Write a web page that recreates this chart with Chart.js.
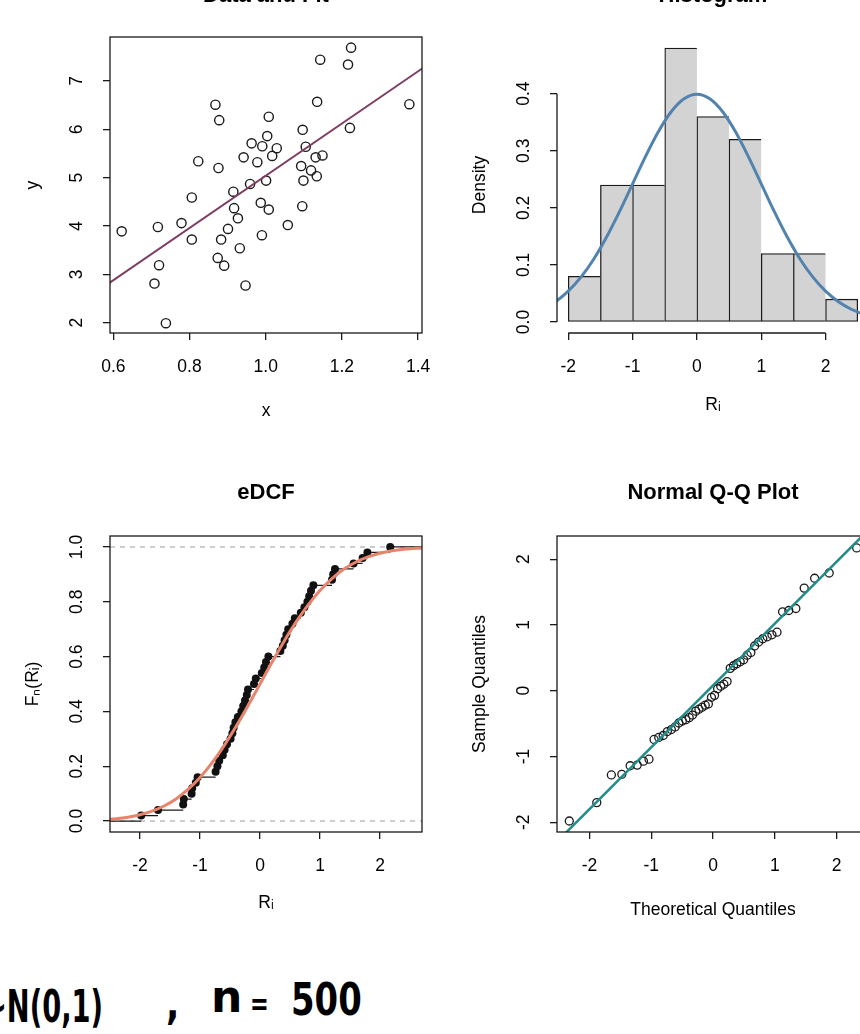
<!DOCTYPE html>
<html>
<head>
<meta charset="utf-8">
<title>Residual diagnostics</title>
<script src="https://cdn.jsdelivr.net/npm/chart.js@4.4.1/dist/chart.umd.min.js"></script>
<style>
html, body { margin:0; padding:0; background:#ffffff; }
body { width:860px; height:1034px; overflow:hidden; position:relative; }
canvas { position:absolute; }
.hand { position:absolute; font-family:'DejaVu Sans', sans-serif; font-weight:bold; font-size:44px; line-height:44px; color:#000; white-space:pre; transform-origin:0 0; }
</style>
</head>
<body>
<canvas id="pScatter"></canvas>
<canvas id="pHist"></canvas>
<canvas id="pEcdf"></canvas>
<canvas id="pQQ"></canvas>
<div class="hand" style="left:-16px;top:985px;transform:scaleX(0.62)">~N(0,1)</div>
<div class="hand" style="left:166px;top:982px;transform:scaleX(0.8)">,</div>
<div class="hand" style="left:211px;top:975px;">n</div>
<div class="hand" style="left:250px;top:982px;font-size:32px;transform:scaleX(0.7)">=</div>
<div class="hand" style="left:291px;top:978px;transform:scaleX(0.77)">500</div>
<script>
// ---------------- data ----------------
// Panel 1: data and fit
const scatterX = [0.622,0.717,0.720,0.708,0.738,0.779,0.806,0.806,0.823,0.868,0.878,0.876,0.874,0.883,0.891,0.901,0.915,0.917,0.927,0.932,0.947,0.942,0.963,0.959,0.978,0.991,0.987,0.990,1.004,1.008,1.001,1.008,1.017,1.029,1.058,1.097,1.105,1.093,1.099,1.096,1.119,1.131,1.134,1.149,1.135,1.143,1.216,1.224,1.221,1.377];
const scatterY = [3.89,3.98,3.19,2.81,1.99,4.06,4.59,3.72,5.34,6.51,6.19,5.20,3.34,3.72,3.18,3.94,4.71,4.37,4.16,3.54,2.77,5.42,5.71,4.87,5.32,5.65,4.48,3.81,5.86,6.26,4.94,4.34,5.45,5.61,4.02,5.99,5.64,5.24,4.94,4.41,5.15,5.42,5.03,5.46,6.57,7.44,7.34,7.69,6.03,6.52];
const fitLineX = [0.55, 1.45];
const fitLineY = [2.61, 7.47];
const scatterXTicks = [0.6, 0.8, 1.0, 1.2, 1.4];
const scatterXTickLabels = ['0.6', '0.8', '1.0', '1.2', '1.4'];
const scatterYTicks = [2, 3, 4, 5, 6, 7];
const scatterYTickLabels = ['2', '3', '4', '5', '6', '7'];

// Panel 2: histogram of residuals
const histBreaks = [-2, -1.5, -1, -0.5, 0, 0.5, 1, 1.5, 2, 2.5];
const histDensity = [0.08, 0.24, 0.24, 0.48, 0.36, 0.32, 0.12, 0.12, 0.04];
const pdfCurveX = [-2.4,-2.2,-2.0,-1.8,-1.6,-1.4,-1.2,-1.0,-0.8,-0.6,-0.4,-0.2,0,0.2,0.4,0.6,0.8,1.0,1.2,1.4,1.6,1.8,2.0,2.2,2.4,2.6,2.8];
const pdfCurveY = [0.0224,0.0355,0.0540,0.0790,0.1109,0.1497,0.1942,0.2420,0.2897,0.3332,0.3683,0.3910,0.3989,0.3910,0.3683,0.3332,0.2897,0.2420,0.1942,0.1497,0.1109,0.0790,0.0540,0.0355,0.0224,0.0136,0.0079];
const histXTicks = [-2, -1, 0, 1, 2];
const histXTickLabels = ['-2', '-1', '0', '1', '2'];
const histYTicks = [0, 0.1, 0.2, 0.3, 0.4];
const histYTickLabels = ['0.0', '0.1', '0.2', '0.3', '0.4'];

// Panel 3: empirical distribution function
const sampleSorted = [-1.98,-1.70,-1.28,-1.27,-1.14,-1.13,-1.07,-1.04,-0.74,-0.71,-0.68,-0.62,-0.59,-0.55,-0.49,-0.46,-0.44,-0.41,-0.37,-0.31,-0.28,-0.25,-0.22,-0.20,-0.10,-0.07,0.03,0.07,0.10,0.14,0.34,0.38,0.41,0.44,0.47,0.54,0.58,0.68,0.74,0.79,0.82,0.85,0.89,1.20,1.22,1.25,1.56,1.71,1.79,2.17];
const ecdfProb = [0.02,0.04,0.06,0.08,0.10,0.12,0.14,0.16,0.18,0.20,0.22,0.24,0.26,0.28,0.30,0.32,0.34,0.36,0.38,0.40,0.42,0.44,0.46,0.48,0.50,0.52,0.54,0.56,0.58,0.60,0.62,0.64,0.66,0.68,0.70,0.72,0.74,0.76,0.78,0.80,0.82,0.84,0.86,0.88,0.90,0.92,0.94,0.96,0.98,1.00];
const cdfCurveX = [-2.6,-2.4,-2.2,-2.0,-1.8,-1.6,-1.4,-1.2,-1.0,-0.8,-0.6,-0.4,-0.2,0,0.2,0.4,0.6,0.8,1.0,1.2,1.4,1.6,1.8,2.0,2.2,2.4,2.6,2.8];
const cdfCurveY = [0.0047,0.0082,0.0139,0.0228,0.0359,0.0548,0.0808,0.1151,0.1587,0.2119,0.2743,0.3446,0.4207,0.5000,0.5793,0.6554,0.7257,0.7881,0.8413,0.8849,0.9192,0.9452,0.9641,0.9772,0.9861,0.9918,0.9953,0.9974];
const ecdfRefLevels = [0, 1];
const ecdfXTicks = [-2, -1, 0, 1, 2];
const ecdfXTickLabels = ['-2', '-1', '0', '1', '2'];
const ecdfYTicks = [0, 0.2, 0.4, 0.6, 0.8, 1.0];
const ecdfYTickLabels = ['0.0', '0.2', '0.4', '0.6', '0.8', '1.0'];

// Panel 4: normal Q-Q plot
const theoQuantiles = [-2.326,-1.881,-1.645,-1.476,-1.341,-1.227,-1.126,-1.036,-0.954,-0.878,-0.806,-0.739,-0.674,-0.613,-0.553,-0.496,-0.440,-0.385,-0.332,-0.279,-0.228,-0.176,-0.126,-0.075,-0.025,0.025,0.075,0.126,0.176,0.228,0.279,0.332,0.385,0.440,0.496,0.553,0.613,0.674,0.739,0.806,0.878,0.954,1.036,1.126,1.227,1.341,1.476,1.645,1.881,2.326];
const qqLineX = [-2.6, 2.7];
const qqLineY = [-2.364, 2.618];
const qqXTicks = [-2, -1, 0, 1, 2];
const qqXTickLabels = ['-2', '-1', '0', '1', '2'];
const qqYTicks = [-2, -1, 0, 1, 2];
const qqYTickLabels = ['-2', '-1', '0', '1', '2'];

// ---------------- rendering ----------------
const FONT = "'Liberation Sans', Arial, Helvetica, sans-serif";
Chart.defaults.font.family = FONT;
Chart.defaults.color = '#000';
Chart.defaults.animation = false;

const TICK_SIZE = 17.5, TITLE_SIZE = 22;
const YW = 110, XH = 110, TB = 90, PR = 40, TL = 7;
const PW = 312, PH = 296;
const INK = '#1a1a1a';

function textWidth(str, size) {
  const c = document.createElement('canvas').getContext('2d');
  c.font = size + 'px ' + FONT;
  return c.measureText(str).width;
}

const rAxes = {
  id: 'rAxes',
  afterDatasetsDraw(chart, args, opts) {
    const ctx = chart.ctx, a = chart.chartArea, x = chart.scales.x, y = chart.scales.y;
    ctx.save();
    ctx.strokeStyle = INK;
    ctx.lineWidth = 1.3;
    if (opts.box) {
      ctx.strokeRect(a.left, a.top, a.right - a.left, a.bottom - a.top);
    } else {
      const xt = x.ticks, yt = y.ticks;
      ctx.beginPath();
      ctx.moveTo(x.getPixelForValue(xt[0].value), a.bottom);
      ctx.lineTo(x.getPixelForValue(xt[xt.length - 1].value), a.bottom);
      ctx.moveTo(a.left, y.getPixelForValue(yt[0].value));
      ctx.lineTo(a.left, y.getPixelForValue(yt[yt.length - 1].value));
      ctx.stroke();
    }
    ctx.restore();
  }
};

function makePanel(p) {
  const cv = document.getElementById(p.id);
  const cw = YW + PW + PR, ch = TB + PH + XH;
  cv.width = cw; cv.height = ch;
  cv.style.left = (p.L - YW) + 'px';
  cv.style.top = (p.T - TB) + 'px';
  cv.style.width = cw + 'px';
  cv.style.height = ch + 'px';
  const widest = Math.max.apply(null, p.yTickLabels.map(s => textWidth(s, TICK_SIZE)));
  const lh = TICK_SIZE * 1.2;
  const axisFont = { size: TICK_SIZE, lineHeight: 1.2 };
  const gridCfg = { display: true, drawOnChartArea: false, drawTicks: true, tickLength: TL, color: INK, lineWidth: 1.3, offset: false };
  return new Chart(cv, {
    type: p.type,
    data: { datasets: p.datasets },
    options: {
      responsive: false, maintainAspectRatio: false, devicePixelRatio: 1, animation: false, events: [],
      layout: { padding: { left: 0, top: 0, bottom: 0, right: PR } },
      plugins: {
        legend: { display: false },
        tooltip: { enabled: false },
        title: {
          display: true, text: p.title, fullSize: false, color: '#000',
          font: { size: TITLE_SIZE, weight: 'bold', lineHeight: 1.2 },
          padding: { top: TB - p.titleGap - TITLE_SIZE * 0.6, bottom: p.titleGap - TITLE_SIZE * 0.6 }
        },
        rAxes: { box: p.box }
      },
      scales: {
        x: {
          type: 'linear', position: 'bottom', min: p.xMin, max: p.xMax, offset: false,
          afterBuildTicks: s => { s.ticks = p.xTicks.map(v => ({ value: v })); },
          afterFit: s => { s.height = XH; },
          grid: gridCfg, border: { display: false },
          ticks: { autoSkip: false, maxRotation: 0, minRotation: 0, padding: 34.5 - TL - lh / 2, font: axisFont, color: '#000',
                   callback: (v, i) => p.xTickLabels[i] },
          title: { display: true, text: p.xTitle, color: '#000', font: axisFont,
                   padding: { top: 0, bottom: XH - p.xTitleDrop - lh / 2 } }
        },
        y: {
          type: 'linear', position: 'left', min: p.yMin, max: p.yMax,
          afterBuildTicks: s => { s.ticks = p.yTicks.map(v => ({ value: v })); },
          afterFit: s => { s.width = YW; },
          grid: gridCfg, border: { display: false },
          ticks: { autoSkip: false, minRotation: 90, maxRotation: 90, crossAlign: 'center',
                   padding: 32.5 - TL - widest / 2, font: axisFont, color: '#000',
                   callback: (v, i) => p.yTickLabels[i] },
          title: { display: true, text: p.yTitle, color: '#000', font: axisFont,
                   padding: { top: YW - 77 - lh / 2, bottom: 0 } }
        }
      }
    },
    plugins: [rAxes]
  });
}

// Panel 1
makePanel({
  id: 'pScatter', type: 'scatter', L: 110, T: 37, titleGap: 41, box: true,
  title: 'Data and Fit', xTitle: 'x', yTitle: 'y', xTitleDrop: 78.5,
  xMin: 0.5913, xMax: 1.4102, yMin: 1.787, yMax: 7.910,
  xTicks: scatterXTicks, xTickLabels: scatterXTickLabels, yTicks: scatterYTicks, yTickLabels: scatterYTickLabels,
  datasets: [
    { type: 'line', data: fitLineX.map((x, i) => ({ x: x, y: fitLineY[i] })), borderColor: '#7F3F62', borderWidth: 2, pointRadius: 0, showLine: true, fill: false },
    { type: 'scatter', data: scatterX.map((x, i) => ({ x: x, y: scatterY[i] })), pointRadius: 4.6, pointBorderWidth: 1.4,
      pointBorderColor: INK, pointBackgroundColor: 'rgba(0,0,0,0)' }
  ]
});

// Panel 2
makePanel({
  id: 'pHist', type: 'bar', L: 557, T: 37, titleGap: 41, box: false,
  title: 'Histogram', xTitle: 'R\u1D62', yTitle: 'Density', xTitleDrop: 72.5,
  xMin: -2.175, xMax: 2.675, yMin: -0.0192, yMax: 0.4992,
  xTicks: histXTicks, xTickLabels: histXTickLabels, yTicks: histYTicks, yTickLabels: histYTickLabels,
  datasets: [
    { type: 'line', data: pdfCurveX.map((x, i) => ({ x: x, y: pdfCurveY[i] })), borderColor: '#5283AE', borderWidth: 3,
      pointRadius: 0, cubicInterpolationMode: 'monotone', fill: false },
    { type: 'bar', data: histDensity.map((d, i) => ({ x: (histBreaks[i] + histBreaks[i + 1]) / 2, y: d })),
      backgroundColor: '#D3D3D3', borderColor: INK, borderSkipped: false,
      borderWidth: c => ({ top: 1.3, bottom: 1.3, left: 1.3, right: c.dataIndex === histDensity.length - 1 ? 1.3 : 0 }),
      barPercentage: 1, categoryPercentage: 1, grouped: false }
  ]
});

// Panel 3
const stepSegments = [{ x: -3, y: 0 }, { x: sampleSorted[0], y: 0 }, { x: sampleSorted[0], y: null }];
sampleSorted.forEach((x, i) => {
  const xEnd = i < sampleSorted.length - 1 ? sampleSorted[i + 1] : 3;
  stepSegments.push({ x: x, y: ecdfProb[i] }, { x: xEnd, y: ecdfProb[i] }, { x: xEnd, y: null });
});
makePanel({
  id: 'pEcdf', type: 'scatter', L: 110, T: 536, titleGap: 43, box: true,
  title: 'eDCF', xTitle: 'R\u1D62', yTitle: 'F\u2099(R\u1D62)', xTitleDrop: 71.5,
  xMin: -2.5, xMax: 2.7, yMin: -0.04, yMax: 1.04,
  xTicks: ecdfXTicks, xTickLabels: ecdfXTickLabels, yTicks: ecdfYTicks, yTickLabels: ecdfYTickLabels,
  datasets: [
    { type: 'line', data: cdfCurveX.map((x, i) => ({ x: x, y: cdfCurveY[i] })), borderColor: '#E8846C', borderWidth: 3,
      pointRadius: 0, cubicInterpolationMode: 'monotone', fill: false },
    { type: 'scatter', data: sampleSorted.map((x, i) => ({ x: x, y: ecdfProb[i] })), pointRadius: 4, pointBorderWidth: 0,
      pointBackgroundColor: '#111' },
    { type: 'line', data: stepSegments, borderColor: INK, borderWidth: 1.2, pointRadius: 0, spanGaps: false, fill: false },
    { type: 'line', data: [{ x: -3, y: ecdfRefLevels[0] }, { x: 3, y: ecdfRefLevels[0] }], borderColor: '#B3B3B3', borderWidth: 1.3, borderDash: [5, 5], pointRadius: 0 },
    { type: 'line', data: [{ x: -3, y: ecdfRefLevels[1] }, { x: 3, y: ecdfRefLevels[1] }], borderColor: '#B3B3B3', borderWidth: 1.3, borderDash: [5, 5], pointRadius: 0 }
  ]
});

// Panel 4
makePanel({
  id: 'pQQ', type: 'scatter', L: 557, T: 536, titleGap: 43, box: true,
  title: 'Normal Q-Q Plot', xTitle: 'Theoretical Quantiles', yTitle: 'Sample Quantiles', xTitleDrop: 78,
  xMin: -2.525, xMax: 2.525, yMin: -2.147, yMax: 2.352,
  xTicks: qqXTicks, xTickLabels: qqXTickLabels, yTicks: qqYTicks, yTickLabels: qqYTickLabels,
  datasets: [
    { type: 'line', data: qqLineX.map((x, i) => ({ x: x, y: qqLineY[i] })), borderColor: '#1F8C8A', borderWidth: 2.5, pointRadius: 0, fill: false },
    { type: 'scatter', data: theoQuantiles.map((x, i) => ({ x: x, y: sampleSorted[i] })), pointRadius: 4, pointBorderWidth: 1.3,
      pointBorderColor: INK, pointBackgroundColor: 'rgba(0,0,0,0)' }
  ]
});
</script>
</body>
</html>
